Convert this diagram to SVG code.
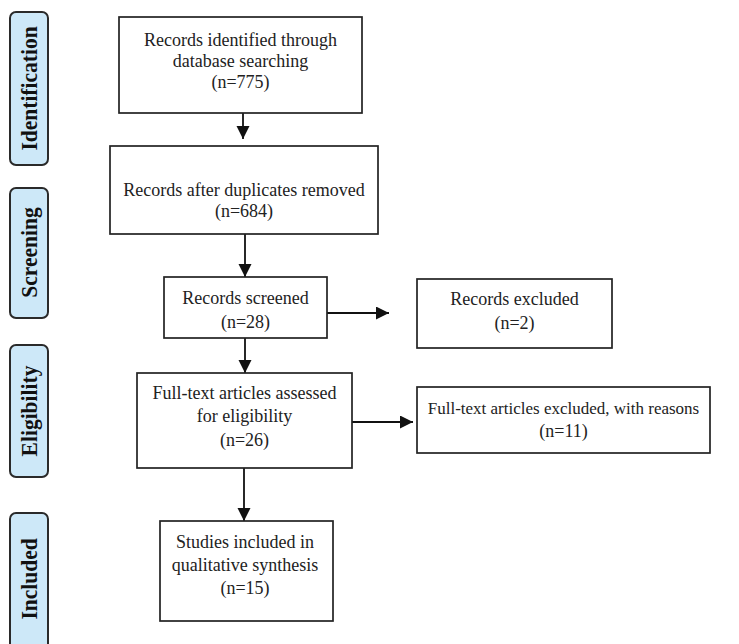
<svg xmlns="http://www.w3.org/2000/svg" width="739" height="644" viewBox="0 0 739 644">
<style>
.tab{fill:#cde8f8;stroke:#2a2a2a;stroke-width:2}
.tabt{font-family:"Liberation Serif",serif;font-weight:bold;font-size:21.5px;fill:#111;text-anchor:middle}
.box{fill:#fff;stroke:#222;stroke-width:1.7}
.t{font-family:"Liberation Serif",serif;font-size:18px;fill:#222;text-anchor:middle}
.c{stroke:#111;stroke-width:1.8;fill:none;marker-end:url(#ah)}
</style>
<defs>
<marker id="ah" markerWidth="15" markerHeight="15" refX="13" refY="6.5" orient="auto" markerUnits="userSpaceOnUse">
<path d="M0,0 L13,6.5 L0,13 Z" fill="#111"/>
</marker>
</defs>
<rect width="739" height="644" fill="#fff"/>
<g id="tab-identification"><rect class="tab" x="10" y="12" width="38" height="153" rx="6"/><text class="tabt" transform="translate(37,88.5) rotate(-90) scale(1,1.1)">Identification</text></g>
<g id="tab-screening"><rect class="tab" x="10" y="188" width="38" height="130" rx="6"/><text class="tabt" transform="translate(37,252.5) rotate(-90) scale(1,1.1)">Screening</text></g>
<g id="tab-eligibility"><rect class="tab" x="10" y="345" width="38" height="132" rx="6"/><text class="tabt" transform="translate(37,411) rotate(-90) scale(1,1.1)">Eligibility</text></g>
<g id="tab-included"><rect class="tab" x="10" y="513" width="38" height="140" rx="6"/><text class="tabt" transform="translate(37,579) rotate(-90) scale(1,1.1)">Included</text></g>

<g id="connectors">
<line class="c" x1="243" y1="113" x2="243" y2="139"/>
<line class="c" x1="245" y1="234" x2="245" y2="277"/>
<line class="c" x1="327" y1="313" x2="389" y2="313"/>
<line class="c" x1="245" y1="338" x2="245" y2="373"/>
<line class="c" x1="352" y1="422" x2="413" y2="422"/>
<line class="c" x1="244" y1="468" x2="244" y2="521"/>
</g>

<g id="n1"><rect class="box" x="119" y="17" width="243" height="96"/>
<text class="t" x="240.5" y="46">Records identified through</text>
<text class="t" x="240.5" y="67">database searching</text>
<text class="t" x="240.5" y="88">(n=775)</text></g>
<g id="n2"><rect class="box" x="110" y="146" width="268" height="88"/>
<text class="t" x="244" y="196">Records after duplicates removed</text>
<text class="t" x="244" y="217">(n=684)</text></g>
<g id="n3"><rect class="box" x="164" y="277" width="163" height="61"/>
<text class="t" x="245.5" y="304">Records screened</text>
<text class="t" x="245.5" y="328">(n=28)</text></g>
<g id="n4"><rect class="box" x="417" y="279" width="195" height="69"/>
<text class="t" x="514.5" y="305">Records excluded</text>
<text class="t" x="514.5" y="329">(n=2)</text></g>
<g id="n5"><rect class="box" x="137" y="373" width="215" height="95"/>
<text class="t" x="244.5" y="399">Full-text articles assessed</text>
<text class="t" x="244.5" y="422">for eligibility</text>
<text class="t" x="244.5" y="446">(n=26)</text></g>
<g id="n6"><rect class="box" x="417" y="387" width="293" height="66"/>
<text class="t" x="563.5" y="414" style="font-size:17px">Full-text articles excluded, with reasons</text>
<text class="t" x="563.5" y="437">(n=11)</text></g>
<g id="n7"><rect class="box" x="160" y="521" width="173" height="100"/>
<text class="t" x="245" y="548">Studies included in</text>
<text class="t" x="245" y="571">qualitative synthesis</text>
<text class="t" x="245" y="594">(n=15)</text></g>
</svg>
